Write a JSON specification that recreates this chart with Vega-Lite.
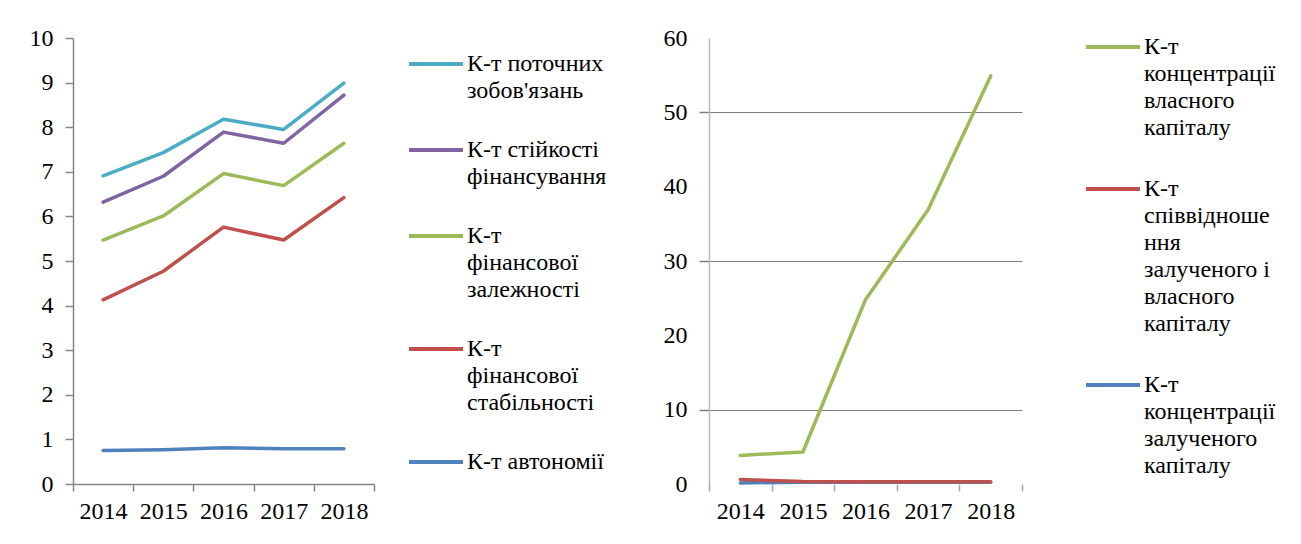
{
  "$schema": "https://vega.github.io/schema/vega-lite/v6.json",
  "background": "white",
  "padding": {"left": 29, "top": 18, "right": 5, "bottom": 5},
  "spacing": 56,
  "resolve": {"scale": {"color": "independent"}, "legend": {"color": "independent"}},
  "config": {
    "font": "Liberation Serif, Times New Roman, serif",
    "view": {"stroke": null},
    "style": {"guide-label": {"lineHeight": 27}},
    "axis": {
      "labelFont": "Liberation Serif, Times New Roman, serif",
      "labelFontSize": 24,
      "labelColor": "#000000",
      "domainColor": "#868686",
      "tickColor": "#868686",
      "domainWidth": 1.5,
      "tickWidth": 1.5,
      "grid": false,
      "title": null
    },
    "legend": {
      "orient": "none",
      "title": null,
      "symbolType": "stroke",
      "symbolSize": 2916,
      "symbolStrokeWidth": 4,
      "labelFont": "Liberation Serif, Times New Roman, serif",
      "labelFontSize": 24,
      "labelColor": "#000000",
      "labelLimit": 0,
      "labelOffset": 2,
      "padding": 0,
      "rowPadding": 18
    }
  },
  "datasets": {
    "left": [
      {"series": "К-т поточних\nзобов'язань", "year": "2014", "value": 6.91},
      {"series": "К-т поточних\nзобов'язань", "year": "2015", "value": 7.43},
      {"series": "К-т поточних\nзобов'язань", "year": "2016", "value": 8.18},
      {"series": "К-т поточних\nзобов'язань", "year": "2017", "value": 7.95},
      {"series": "К-т поточних\nзобов'язань", "year": "2018", "value": 8.99},
      {"series": "К-т стійкості\nфінансування", "year": "2014", "value": 6.32},
      {"series": "К-т стійкості\nфінансування", "year": "2015", "value": 6.90},
      {"series": "К-т стійкості\nфінансування", "year": "2016", "value": 7.89},
      {"series": "К-т стійкості\nфінансування", "year": "2017", "value": 7.64},
      {"series": "К-т стійкості\nфінансування", "year": "2018", "value": 8.72},
      {"series": "К-т\nфінансової\nзалежності", "year": "2014", "value": 5.47},
      {"series": "К-т\nфінансової\nзалежності", "year": "2015", "value": 6.01},
      {"series": "К-т\nфінансової\nзалежності", "year": "2016", "value": 6.96},
      {"series": "К-т\nфінансової\nзалежності", "year": "2017", "value": 6.69},
      {"series": "К-т\nфінансової\nзалежності", "year": "2018", "value": 7.64},
      {"series": "К-т\nфінансової\nстабільності", "year": "2014", "value": 4.13},
      {"series": "К-т\nфінансової\nстабільності", "year": "2015", "value": 4.77},
      {"series": "К-т\nфінансової\nстабільності", "year": "2016", "value": 5.76},
      {"series": "К-т\nфінансової\nстабільності", "year": "2017", "value": 5.47},
      {"series": "К-т\nфінансової\nстабільності", "year": "2018", "value": 6.42},
      {"series": "К-т автономії", "year": "2014", "value": 0.75},
      {"series": "К-т автономії", "year": "2015", "value": 0.77},
      {"series": "К-т автономії", "year": "2016", "value": 0.81},
      {"series": "К-т автономії", "year": "2017", "value": 0.79},
      {"series": "К-т автономії", "year": "2018", "value": 0.79}
    ],
    "right": [
      {"series": "К-т\nконцентрації\nзалученого\nкапіталу", "year": "2014", "value": 0.15},
      {"series": "К-т\nконцентрації\nзалученого\nкапіталу", "year": "2015", "value": 0.25},
      {"series": "К-т\nконцентрації\nзалученого\nкапіталу", "year": "2016", "value": 0.25},
      {"series": "К-т\nконцентрації\nзалученого\nкапіталу", "year": "2017", "value": 0.25},
      {"series": "К-т\nконцентрації\nзалученого\nкапіталу", "year": "2018", "value": 0.25},
      {"series": "К-т\nспіввідноше\nння\nзалученого і\nвласного\nкапіталу", "year": "2014", "value": 0.6},
      {"series": "К-т\nспіввідноше\nння\nзалученого і\nвласного\nкапіталу", "year": "2015", "value": 0.35},
      {"series": "К-т\nспіввідноше\nння\nзалученого і\nвласного\nкапіталу", "year": "2016", "value": 0.3},
      {"series": "К-т\nспіввідноше\nння\nзалученого і\nвласного\nкапіталу", "year": "2017", "value": 0.3},
      {"series": "К-т\nспіввідноше\nння\nзалученого і\nвласного\nкапіталу", "year": "2018", "value": 0.3},
      {"series": "К-т\nконцентрації\nвласного\nкапіталу", "year": "2014", "value": 3.85},
      {"series": "К-т\nконцентрації\nвласного\nкапіталу", "year": "2015", "value": 4.3},
      {"series": "К-т\nконцентрації\nвласного\nкапіталу", "year": "2016", "value": 24.8},
      {"series": "К-т\nконцентрації\nвласного\nкапіталу", "year": "2017", "value": 36.9},
      {"series": "К-т\nконцентрації\nвласного\nкапіталу", "year": "2018", "value": 54.9}
    ]
  },
  "hconcat": [
    {
      "width": 301,
      "height": 446,
      "data": {"name": "left"},
      "mark": {"type": "line", "strokeWidth": 3.5, "strokeCap": "round", "strokeJoin": "round"},
      "encoding": {
        "x": {
          "field": "year", "type": "ordinal", "bandPosition": 0.5,
          "scale": {"type": "band", "paddingInner": 0, "paddingOuter": 0},
          "axis": {"tickBand": "extent", "labelAngle": 0, "tickSize": 7, "labelPadding": 8}
        },
        "y": {
          "field": "value", "type": "quantitative",
          "scale": {"domain": [0, 10], "nice": false},
          "axis": {"values": [0, 1, 2, 3, 4, 5, 6, 7, 8, 9, 10], "tickSize": 8, "labelPadding": 12}
        },
        "color": {
          "field": "series", "type": "nominal", "sort": null,
          "scale": {
            "domain": ["К-т поточних\nзобов'язань", "К-т стійкості\nфінансування", "К-т\nфінансової\nзалежності", "К-т\nфінансової\nстабільності", "К-т автономії"],
            "range": ["#4BACC6", "#8064A2", "#9BBB59", "#C0504D", "#4F81BD"]
          },
          "legend": {"legendX": 334, "legendY": -3, "labelExpr": "split(datum.label, '\\n')"}
        }
      }
    },
    {
      "width": 313,
      "height": 446,
      "data": {"name": "right"},
      "mark": {"type": "line", "strokeWidth": 3.5, "strokeCap": "round", "strokeJoin": "round"},
      "encoding": {
        "x": {
          "field": "year", "type": "ordinal", "bandPosition": 0.5,
          "scale": {"type": "band", "paddingInner": 0, "paddingOuter": 0},
          "axis": {"tickBand": "extent", "labelAngle": 0, "tickSize": 7, "labelPadding": 8, "domain": false, "tickColor": "#a6a6a6"}
        },
        "y": {
          "field": "value", "type": "quantitative",
          "scale": {"domain": [0, 60], "nice": false},
          "axis": {
            "values": [0, 10, 20, 30, 40, 50, 60], "tickSize": 10, "labelPadding": 12,
            "domainColor": "#b8b8b8", "domainWidth": 1.5,
            "grid": true, "gridColor": "#808080", "gridWidth": 1.2,
            "gridOpacity": {"condition": {"test": "datum.value === 10 || datum.value === 30 || datum.value === 50", "value": 1}, "value": 0},
            "tickOpacity": {"condition": {"test": "datum.value === 10 || datum.value === 30 || datum.value === 50", "value": 1}, "value": 0},
            "tickColor": "#808080"
          }
        },
        "color": {
          "field": "series", "type": "nominal", "sort": null,
          "scale": {
            "domain": ["К-т\nконцентрації\nвласного\nкапіталу", "К-т\nспіввідноше\nння\nзалученого і\nвласного\nкапіталу", "К-т\nконцентрації\nзалученого\nкапіталу"],
            "range": ["#9BBB59", "#C0504D", "#4F81BD"]
          },
          "legend": {"legendX": 375, "legendY": -20, "rowPadding": 20, "labelExpr": "split(datum.label, '\\n')"}
        }
      }
    }
  ]
}
